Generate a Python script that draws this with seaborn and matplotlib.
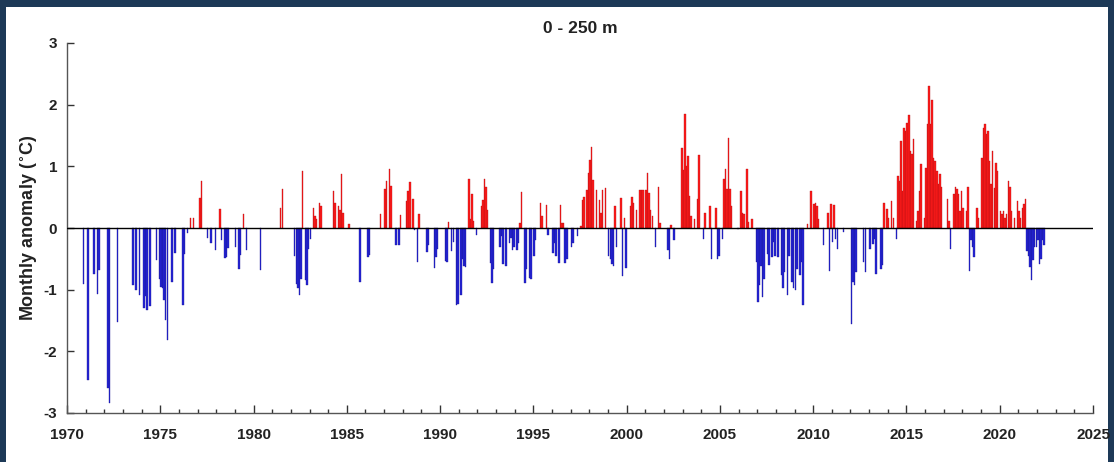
import numpy as np
import pandas as pd
import matplotlib
matplotlib.use("Agg")
import matplotlib.pyplot as plt
import seaborn as sns
from matplotlib.ticker import MultipleLocator, FixedLocator
from matplotlib.patches import Rectangle

title_text = "0 - 250 m"
y_label = "Monthly anomaly ($^{\\circ}$C)"
x_ticks = list(range(1970, 2026, 5))
y_ticks = [-3, -2, -1, 0, 1, 2, 3]

# observed months (gaps = no data) and their temperature anomalies (deg C)
obs_month = [
    "1970-11",
    "1971-02", "1971-06", "1971-08", "1971-09",
    "1972-03", "1972-04", "1972-09",
    "1973-07", "1973-09", "1973-11",
    "1974-02", "1974-03", "1974-04", "1974-06", "1974-10", "1974-12",
    "1975-01", "1975-02", "1975-03", "1975-04", "1975-05", "1975-08", "1975-10",
    "1976-03", "1976-04", "1976-06", "1976-08", "1976-10",
    "1977-02", "1977-03", "1977-07", "1977-09", "1977-12",
    "1978-03", "1978-04", "1978-06", "1978-07", "1978-08",
    "1979-01", "1979-03", "1979-04", "1979-06", "1979-08",
    "1980-05",
    "1981-06", "1981-07",
    "1982-03", "1982-04", "1982-05", "1982-06", "1982-07", "1982-08", "1982-10", "1982-11", "1982-12",
    "1983-01", "1983-03", "1983-04", "1983-05", "1983-07", "1983-08",
    "1984-04", "1984-05", "1984-07", "1984-08", "1984-09", "1984-10",
    "1985-02", "1985-09",
    "1986-02", "1986-03", "1986-10",
    "1987-01", "1987-02", "1987-04", "1987-05", "1987-08", "1987-10", "1987-11",
    "1988-03", "1988-04", "1988-05", "1988-07", "1988-08", "1988-10", "1988-11",
    "1989-04", "1989-05", "1989-09", "1989-10", "1989-11",
    "1990-04", "1990-05", "1990-06", "1990-08", "1990-09", "1990-11", "1990-12",
    "1991-02", "1991-03", "1991-04", "1991-05", "1991-07", "1991-08", "1991-09", "1991-10", "1991-12",
    "1992-03", "1992-04", "1992-05", "1992-06", "1992-07", "1992-09", "1992-10", "1992-11",
    "1993-03", "1993-04", "1993-05", "1993-07", "1993-09", "1993-10", "1993-11", "1993-12",
    "1994-02", "1994-03", "1994-04", "1994-05", "1994-07", "1994-08", "1994-10", "1994-11",
    "1995-01", "1995-02", "1995-05", "1995-06", "1995-09", "1995-10",
    "1996-01", "1996-02", "1996-03", "1996-05", "1996-06", "1996-07", "1996-08", "1996-09", "1996-10",
    "1997-01", "1997-02", "1997-05", "1997-07", "1997-08", "1997-09", "1997-11", "1997-12",
    "1998-01", "1998-02", "1998-03", "1998-05", "1998-07", "1998-08", "1998-09", "1998-11",
    "1999-01", "1999-02", "1999-03", "1999-04", "1999-05", "1999-06", "1999-09", "1999-10", "1999-11", "1999-12",
    "2000-03", "2000-04", "2000-05", "2000-07", "2000-09", "2000-10", "2000-11",
    "2001-01", "2001-02", "2001-03", "2001-04", "2001-05", "2001-07", "2001-09", "2001-10",
    "2002-03", "2002-04", "2002-05", "2002-07", "2002-12",
    "2003-01", "2003-02", "2003-03", "2003-04", "2003-05", "2003-06", "2003-08", "2003-10", "2003-11",
    "2004-02", "2004-03", "2004-06", "2004-07", "2004-10", "2004-11", "2004-12",
    "2005-02", "2005-03", "2005-04", "2005-05", "2005-06", "2005-07", "2005-08", "2005-12",
    "2006-02", "2006-03", "2006-04", "2006-06", "2006-07", "2006-09", "2006-12",
    "2007-01", "2007-02", "2007-03", "2007-04", "2007-05", "2007-07", "2007-08", "2007-10", "2007-11", "2007-12",
    "2008-02", "2008-04", "2008-05", "2008-06", "2008-08", "2008-09", "2008-11", "2008-12",
    "2009-01", "2009-02", "2009-04", "2009-05", "2009-06", "2009-09", "2009-11",
    "2010-01", "2010-02", "2010-03", "2010-04", "2010-07", "2010-10", "2010-11", "2010-12",
    "2011-01", "2011-02", "2011-03", "2011-04", "2011-08",
    "2012-01", "2012-02", "2012-03", "2012-04", "2012-09", "2012-10",
    "2013-01", "2013-03", "2013-04", "2013-05", "2013-08", "2013-09", "2013-10", "2013-12",
    "2014-01", "2014-03", "2014-04", "2014-06", "2014-07", "2014-08", "2014-09", "2014-10", "2014-11", "2014-12",
    "2015-01", "2015-02", "2015-03", "2015-04", "2015-05", "2015-07", "2015-08", "2015-09", "2015-10", "2015-12",
    "2016-01", "2016-02", "2016-03", "2016-04", "2016-05", "2016-06", "2016-07", "2016-08", "2016-09", "2016-10", "2016-11",
    "2017-03", "2017-04", "2017-05", "2017-07", "2017-08", "2017-09", "2017-10", "2017-11", "2017-12",
    "2018-01", "2018-03", "2018-04", "2018-05", "2018-06", "2018-07", "2018-08", "2018-10", "2018-11",
    "2019-01", "2019-02", "2019-03", "2019-04", "2019-05", "2019-06", "2019-07", "2019-08", "2019-09", "2019-10", "2019-11",
    "2020-01", "2020-02", "2020-03", "2020-04", "2020-05", "2020-06", "2020-07", "2020-08", "2020-10", "2020-12",
    "2021-01", "2021-02", "2021-03", "2021-04", "2021-05", "2021-06", "2021-07", "2021-08", "2021-09", "2021-10", "2021-11", "2021-12",
    "2022-01", "2022-02", "2022-03", "2022-04", "2022-05",
]

anomaly = [
    -0.90,
    -2.46, -0.75, -1.07, -0.68,
    -2.60, -2.83, -1.52,
    -0.92, -1.00, -1.09,
    -1.30, -1.10, -1.33, -1.26, -0.52, -0.82,
    -0.95, -0.98, -1.17, -1.49, -1.81, -0.87, -0.41,
    -1.25, -0.42, -0.08, 0.16, 0.16,
    0.48, 0.77, -0.17, -0.24, -0.36,
    0.31, -0.20, -0.48, -0.47, -0.33,
    -0.31, -0.66, -0.43, 0.23, -0.36,
    -0.68,
    0.33, 0.64,
    -0.45, -0.90, -0.98, -1.08, -0.82, 0.92, -0.85, -0.92, -0.34,
    -0.18, 0.33, 0.20, 0.15, 0.41, 0.36,
    0.60, 0.41, 0.36, 0.30, 0.87, 0.25,
    0.06, -0.88,
    -0.47, -0.44, 0.23,
    0.63, 0.76, 0.95, 0.68, -0.28, -0.27, 0.21,
    0.44, 0.60, 0.75, 0.47, -0.04, -0.55, 0.23,
    -0.39, -0.28, -0.65, -0.47, -0.34,
    -0.53, -0.55, 0.10, -0.37, -0.23, -1.25, -1.23,
    -1.09, -0.50, -0.61, -0.63, 0.79, 0.15, 0.55, 0.12, -0.12,
    0.35, 0.46, 0.79, 0.67, 0.30, -0.56, -0.89, -0.67,
    -0.30, -0.13, -0.59, -0.62, -0.24, -0.16, -0.35, -0.30,
    -0.35, -0.24, 0.08, 0.59, -0.89, -0.67, -0.81, -0.83,
    -0.46, -0.19, 0.40, 0.19, 0.38, -0.11,
    -0.40, -0.24, -0.46, -0.56, 0.38, 0.08, 0.08, -0.56, -0.51,
    -0.30, -0.24, -0.13, 0.03, 0.46, 0.51, 0.62, 0.89,
    1.10, 1.32, 0.78, 0.62, 0.46, 0.24, 0.62, 0.65,
    -0.46, -0.51, -0.59, -0.62, 0.35, -0.30, 0.48, -0.78, 0.16, -0.65,
    0.35, 0.51, 0.40, 0.30, 0.62, 0.62, 0.62,
    0.62, 0.89, 0.56, 0.30, 0.19, -0.30, 0.66, 0.08,
    -0.35, -0.51, 0.05, -0.19, 1.29,
    0.94, 1.85, 1.00, 1.17, 0.52, 0.20, 0.15, 0.47, 1.19,
    -0.18, 0.25, 0.36, -0.50, 0.33, -0.50, -0.45,
    -0.18, 0.79, 0.95, 0.63, 1.46, 0.63, 0.36, -0.02,
    0.60, 0.25, 0.22, 0.95, 0.09, 0.15, -0.55,
    -1.20, -0.93, -0.61, -1.12, -0.82, -0.42, -0.60, -0.47, -0.23, -0.45,
    -0.47, -0.77, -0.98, -0.71, -1.09, -0.45, -0.88, -0.98,
    -1.01, -0.66, -0.77, -0.55, -1.25, 0.06, 0.60,
    0.39, 0.40, 0.36, 0.15, -0.28, 0.25, -0.69, 0.39,
    -0.23, 0.37, -0.18, -0.34, -0.07,
    -1.55, -0.88, -0.93, -0.72, -0.55, -0.72,
    -0.34, -0.26, -0.18, -0.74, -0.66, -0.60, 0.41, 0.31,
    0.17, 0.44, 0.17, -0.18, 0.84, 0.76, 1.41, 0.60, 1.62, 1.57,
    1.70, 1.84, 1.25, 1.20, 1.44, 0.12, 0.28, 0.60, 1.03, 0.17,
    0.98, 1.68, 2.30, 1.68, 2.08, 1.14, 1.09, 0.92, 0.71, 0.87, 0.66,
    0.47, 0.12, -0.34, 0.55, 0.66, 0.63, 0.55, 0.28, 0.60,
    0.33, 0.28, 0.66, -0.69, -0.20, -0.31, -0.47, 0.33, 0.17,
    1.14, 1.62, 1.68, 1.52, 1.57, 1.09, 0.71, 1.25, 0.65, 1.06, 0.92,
    0.28, 0.22, 0.28, 0.17, 0.22, 0.76, 0.66, 0.28, 0.17, 0.44,
    0.28, 0.17, 0.33, 0.39, 0.47, -0.37, -0.45, -0.63, -0.85, -0.52, -0.31, -0.30,
    -0.20, -0.58, -0.50, -0.20, -0.28,
]

assert len(obs_month) == len(anomaly)

dt = pd.to_datetime(obs_month, format="%Y-%m")
time = np.round(dt.year + (dt.month - 0.5) / 12.0, 4)
df = pd.DataFrame({"time": time, "anomaly": anomaly})
df["sign"] = np.where(df["anomaly"] >= 0, "warm", "cold")

sns.set_theme(style="ticks")
plt.rcParams["font.family"] = ["Liberation Sans", "DejaVu Sans"]
plt.rcParams["axes.unicode_minus"] = False
plt.rcParams["mathtext.default"] = "bf"

W, H = 1114, 462
fig = plt.figure(figsize=(W / 100, H / 100), dpi=100, facecolor="#1d3957")
fig.patches.append(Rectangle((6 / W, 0), (1108 - 6) / W, (H - 7) / H,
                             transform=fig.transFigure, facecolor="white",
                             edgecolor="none", zorder=-5))
ax = fig.add_axes([67 / W, 49 / H, 1026 / W, 370 / H])
ax.set_facecolor("none")

sns.barplot(data=df, x="time", y="anomaly", hue="sign",
            palette={"warm": "#ff1a1a", "cold": "#2424d6"},
            native_scale=True, dodge=False, width=0.95, errorbar=None,
            saturation=1, legend=False, ax=ax, linewidth=0.25)

for p in ax.patches:
    fc = p.get_facecolor()
    p.set_edgecolor((fc[0] * 0.7, fc[1] * 0.6, fc[2] * 0.7, 1))

ax.axhline(0, color="black", lw=1.0, zorder=5)

ax.set_xlim(1970, 2025)
ax.set_ylim(-3, 3)
ax.xaxis.set_major_locator(FixedLocator(x_ticks))
ax.xaxis.set_minor_locator(MultipleLocator(1))
ax.yaxis.set_major_locator(FixedLocator(y_ticks))
ax.set_xticklabels([str(t) for t in x_ticks])
ax.set_yticklabels([str(t) for t in y_ticks])

for s in ["top", "right"]:
    ax.spines[s].set_visible(False)
for s in ["left", "bottom"]:
    ax.spines[s].set_color("#555555")
    ax.spines[s].set_linewidth(1.0)

ax.tick_params(axis="x", which="major", direction="in", length=6, width=1,
               color="#333333", pad=11, labelsize=11, labelcolor="#222222")
ax.tick_params(axis="x", which="minor", direction="in", length=3, width=1,
               color="#333333")
ax.tick_params(axis="y", which="major", direction="in", length=5, width=1,
               color="#333333", pad=7, labelsize=11, labelcolor="#222222")
for lab in ax.get_xticklabels() + ax.get_yticklabels():
    lab.set_fontweight("bold")

ax.set_xlabel("")
ax.set_ylabel(y_label, fontsize=13, fontweight="bold", color="#222222")
ax.yaxis.set_label_coords(-0.026, 0.5)
ax.set_title(title_text, fontsize=12.5, fontweight="bold", color="#222222", pad=7)

fig.savefig("out.png", dpi=100, facecolor=fig.get_facecolor())
